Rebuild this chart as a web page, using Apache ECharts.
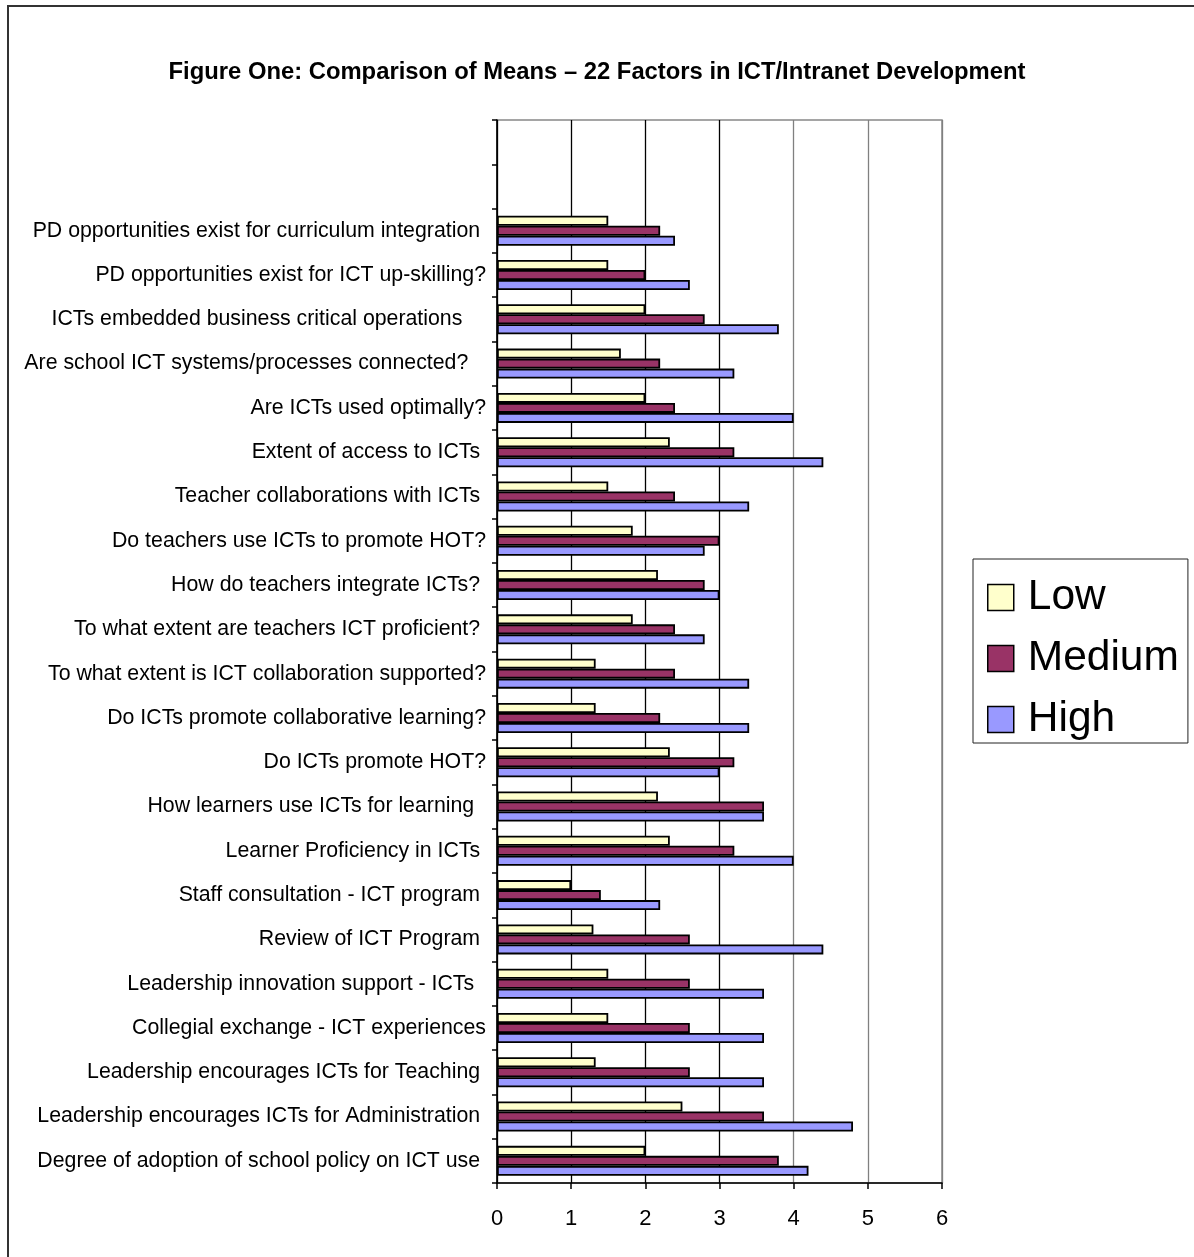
<!DOCTYPE html>
<html>
<head>
<meta charset="utf-8">
<title>Figure One: Comparison of Means</title>
<script src="https://cdn.jsdelivr.net/npm/echarts@6/dist/echarts.min.js"></script>
<style>
  html, body { margin: 0; padding: 0; background: #fff; }
  #chart { width: 1194px; height: 1257px; }
</style>
</head>
<body>
<div id="chart"></div>
<script>
// Factors, listed top to bottom (trailing spaces kept from the source labels)
const factors = [
  'PD opportunities exist for curriculum integration ',
  'PD opportunities exist for ICT up-skilling?',
  'ICTs embedded business critical operations    ',
  'Are school ICT systems/processes connected?   ',
  'Are ICTs used optimally?',
  'Extent of access to ICTs ',
  'Teacher collaborations with ICTs ',
  'Do teachers use ICTs to promote HOT?',
  'How do teachers integrate ICTs? ',
  'To what extent are teachers ICT proficient? ',
  'To what extent is ICT collaboration supported?',
  'Do ICTs promote collaborative learning?',
  'Do ICTs promote HOT?',
  'How learners use ICTs for learning  ',
  'Learner Proficiency in ICTs ',
  'Staff consultation - ICT program ',
  'Review of ICT Program ',
  'Leadership innovation support - ICTs  ',
  'Collegial exchange - ICT experiences',
  'Leadership encourages ICTs for Teaching ',
  'Leadership encourages ICTs for Administration ',
  'Degree of adoption of school policy on ICT use '
];

// Mean ratings per group, same order as factors
const lowMeans = [1.5, 1.5, 2.0, 1.67, 2.0, 2.33, 1.5, 1.83, 2.17, 1.83, 1.33,
                  1.33, 2.33, 2.17, 2.33, 1.0, 1.3, 1.5, 1.5, 1.33, 2.5, 2.0];
const mediumMeans = [2.2, 2.0, 2.8, 2.2, 2.4, 3.2, 2.4, 3.0, 2.8, 2.4, 2.4,
                     2.2, 3.2, 3.6, 3.2, 1.4, 2.6, 2.6, 2.6, 2.6, 3.6, 3.8];
const highMeans = [2.4, 2.6, 3.8, 3.2, 4.0, 4.4, 3.4, 2.8, 3.0, 2.8, 3.4,
                   3.4, 3.0, 3.6, 4.0, 2.2, 4.4, 3.6, 3.6, 3.6, 4.8, 4.2];

const seriesNames = ['Low', 'Medium', 'High'];
const seriesColors = ['#FFFFCC', '#993366', '#9999FF'];
const xTicks = [0, 1, 2, 3, 4, 5, 6];

// Two empty slots sit above the first factor
const categories = [' ', '  '].concat(factors);
const pad = v => [null, null].concat(v);
const groups = [lowMeans, mediumMeans, highMeans];

const chart = echarts.init(document.getElementById('chart'), null, { renderer: 'canvas' });

const font = 'Liberation Sans, Arial, Helvetica, sans-serif';

chart.setOption({
  backgroundColor: '#fff',
  animation: false,
  textStyle: { fontFamily: font },
  title: {
    text: 'Figure One: Comparison of Means \u2013 22 Factors in ICT/Intranet Development',
    left: 'center',
    top: 55,
    textStyle: { fontFamily: font, fontSize: 23.8, fontWeight: 'bold', color: '#000' }
  },
  graphic: [{
    type: 'rect',
    silent: true,
    shape: { x: 8, y: 6, width: 1400, height: 1400 },
    style: { fill: 'none', stroke: '#333', lineWidth: 2 }
  }],
  legend: {
    data: seriesNames,
    orient: 'vertical',
    left: 973,
    top: 559,
    padding: [17, 9, 2, 14],
    itemWidth: 26,
    itemHeight: 26,
    itemGap: 18,
    icon: 'rect',
    borderColor: '#222',
    borderWidth: 1,
    backgroundColor: '#fff',
    itemStyle: { borderColor: '#000', borderWidth: 1.5 },
    textStyle: { fontFamily: font, fontSize: 42.5, color: '#000', padding: [0, 0, 0, 9] }
  },
  grid: {
    left: 497,
    right: 252,
    top: 120,
    bottom: 74,
    show: true,
    borderColor: '#888',
    borderWidth: 1.5,
    containLabel: false
  },
  xAxis: {
    type: 'value',
    min: xTicks[0],
    max: xTicks[xTicks.length - 1],
    interval: 1,
    axisLine: { show: true, lineStyle: { color: '#000', width: 1.5 } },
    axisTick: { show: true, length: 6, lineStyle: { color: '#000', width: 1.5 } },
    axisLabel: { fontFamily: font, fontSize: 22, color: '#000', margin: 25 },
    splitLine: {
      show: true,
      lineStyle: {
        color: ['#000', '#000', '#000', '#000', '#808080', '#808080', '#808080'],
        width: 1.3
      }
    }
  },
  yAxis: {
    type: 'category',
    data: categories,
    inverse: true,
    axisLine: { show: true, lineStyle: { color: '#000', width: 1.5 } },
    axisTick: { show: true, length: 5, interval: 0, alignWithLabel: false, lineStyle: { color: '#000', width: 1.5 } },
    axisLabel: { interval: 0, fontFamily: font, fontSize: 21.3, color: '#000', margin: 11 },
    splitLine: { show: false }
  },
  series: seriesNames.map((name, i) => ({
    name: name,
    type: 'bar',
    data: pad(groups[i]),
    barWidth: 10,
    barGap: '0%',
    itemStyle: { color: seriesColors[i], borderColor: '#000', borderWidth: 1.8 },
    emphasis: { disabled: true }
  }))
});
</script>
</body>
</html>
